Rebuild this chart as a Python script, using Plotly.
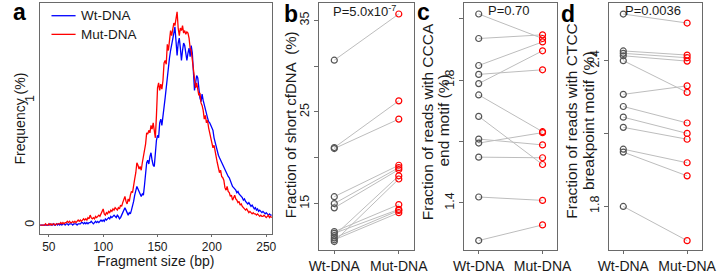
import plotly.graph_objects as go

# ---------------- data ----------------
frag_bp = list(range(42, 256))
wt_freq = [
    0.00, 0.00, 0.00, 0.00, 0.00, 0.00, 0.00, 0.00, 0.00, 0.01,  # 42-51
    0.00, 0.00, 0.01, 0.00, 0.00, 0.01, 0.00, 0.01, 0.00, 0.01,  # 52-61
    0.00, 0.01, 0.01, 0.00, 0.01, 0.01, 0.00, 0.01, 0.01, 0.01,  # 62-71
    0.00, 0.01, 0.01, 0.01, 0.00, 0.01, 0.01, 0.01, 0.02, 0.02,  # 72-81
    0.01, 0.02, 0.01, 0.02, 0.01, 0.02, 0.02, 0.03, 0.02, 0.01,  # 82-91
    0.02, 0.03, 0.02, 0.03, 0.02, 0.03, 0.04, 0.03, 0.04, 0.03,  # 92-101
    0.05, 0.04, 0.05, 0.06, 0.05, 0.07, 0.06, 0.07, 0.08, 0.07,  # 102-111
    0.06, 0.08, 0.07, 0.05, 0.06, 0.08, 0.10, 0.13, 0.14, 0.12,  # 112-121
    0.10, 0.08, 0.10, 0.09, 0.12, 0.15, 0.19, 0.24, 0.29, 0.31,  # 122-131
    0.29, 0.27, 0.25, 0.23, 0.25, 0.24, 0.32, 0.42, 0.50, 0.52,  # 132-141
    0.49, 0.55, 0.58, 0.52, 0.48, 0.47, 0.58, 0.68, 0.72, 0.70,  # 142-151
    0.82, 0.85, 0.80, 0.86, 0.95, 1.02, 1.10, 1.20, 1.28, 1.34,  # 152-161
    1.40, 1.46, 1.50, 1.54, 1.59, 1.48, 1.36, 1.46, 1.50, 1.42,  # 162-171
    1.32, 1.40, 1.46, 1.44, 1.36, 1.32, 1.38, 1.42, 1.35, 1.44,  # 172-181
    1.38, 1.20, 1.08, 1.14, 1.20, 1.18, 1.06, 1.02, 0.99, 1.05,  # 182-191
    1.00, 0.96, 0.92, 0.90, 0.86, 0.83, 0.82, 0.80, 0.78, 0.76,  # 192-201
    0.70, 0.66, 0.64, 0.58, 0.56, 0.54, 0.52, 0.50, 0.48, 0.46,  # 202-211
    0.45, 0.43, 0.41, 0.39, 0.38, 0.35, 0.33, 0.31, 0.30, 0.29,  # 212-221
    0.28, 0.26, 0.27, 0.25, 0.24, 0.23, 0.22, 0.20, 0.21, 0.19,  # 222-231
    0.18, 0.17, 0.18, 0.16, 0.15, 0.16, 0.14, 0.13, 0.14, 0.12,  # 232-241
    0.13, 0.11, 0.12, 0.11, 0.10, 0.11, 0.10, 0.09, 0.10, 0.09,  # 242-251
    0.08, 0.09, 0.08, 0.08,                                      # 252-255
]
mut_freq = [
    0.00, 0.00, 0.00, 0.00, 0.00, 0.01, 0.00, 0.00, 0.01, 0.00,  # 42-51
    0.01, 0.00, 0.01, 0.01, 0.00, 0.01, 0.01, 0.01, 0.01, 0.02,  # 52-61
    0.01, 0.02, 0.01, 0.02, 0.02, 0.03, 0.02, 0.03, 0.02, 0.02,  # 62-71
    0.03, 0.02, 0.03, 0.02, 0.03, 0.04, 0.03, 0.04, 0.03, 0.04,  # 72-81
    0.05, 0.04, 0.05, 0.04, 0.06, 0.05, 0.08, 0.06, 0.05, 0.06,  # 82-91
    0.05, 0.07, 0.06, 0.07, 0.08, 0.07, 0.09, 0.12, 0.13, 0.09,  # 92-101
    0.08, 0.10, 0.09, 0.11, 0.10, 0.12, 0.11, 0.13, 0.12, 0.14,  # 102-111
    0.13, 0.12, 0.14, 0.13, 0.16, 0.15, 0.18, 0.21, 0.23, 0.19,  # 112-121
    0.17, 0.21, 0.19, 0.24, 0.27, 0.26, 0.33, 0.37, 0.42, 0.50,  # 122-131
    0.48, 0.45, 0.47, 0.44, 0.50, 0.55, 0.57, 0.65, 0.74, 0.73,  # 132-141
    0.76, 0.74, 0.80, 0.77, 0.82, 0.73, 0.70, 0.88, 1.10, 1.14,  # 142-151
    1.08, 1.13, 1.09, 1.16, 1.30, 1.32, 1.29, 1.45, 1.40, 1.48,  # 152-161
    1.56, 1.52, 1.58, 1.62, 1.60, 1.66, 1.71, 1.58, 1.52, 1.58,  # 162-171
    1.56, 1.60, 1.54, 1.56, 1.53, 1.55, 1.54, 1.50, 1.42, 1.40,  # 172-181
    1.32, 1.25, 1.18, 1.10, 1.14, 1.07, 1.04, 1.06, 0.98, 0.96,  # 182-191
    0.92, 0.85, 0.88, 0.82, 0.84, 0.78, 0.72, 0.70, 0.66, 0.62,  # 192-201
    0.64, 0.58, 0.56, 0.50, 0.46, 0.42, 0.44, 0.39, 0.38, 0.36,  # 202-211
    0.30, 0.28, 0.31, 0.27, 0.26, 0.23, 0.24, 0.20, 0.22, 0.24,  # 212-221
    0.21, 0.20, 0.18, 0.19, 0.16, 0.17, 0.15, 0.14, 0.13, 0.12,  # 222-231
    0.13, 0.11, 0.10, 0.11, 0.10, 0.09, 0.10, 0.09, 0.09, 0.08,  # 232-241
    0.09, 0.08, 0.07, 0.08, 0.07, 0.07, 0.08, 0.07, 0.06, 0.07,  # 242-251
    0.08, 0.06, 0.07, 0.06,                                      # 252-255
]

groups = ["Wt-DNA", "Mut-DNA"]
group_pos = [1, 2]

short_wt = [30.65, 21.11, 21.00, 15.75, 15.00, 14.53, 11.93, 11.75, 11.50, 11.25, 11.04, 10.85]
short_mut = [35.69, 26.21, 24.22, 19.18, 18.92, 18.71, 14.89, 14.36, 18.03, 14.25, 14.00, 17.68]

ccca_wt = [2.016, 1.936, 1.848, 1.819, 1.789, 1.752, 1.682, 1.608, 1.595, 1.549, 1.419, 1.277]
ccca_mut = [1.936, 1.948, 1.925, 1.834, 1.896, 1.632, 1.525, 1.589, 1.629, 1.547, 1.408, 1.328]

ctcc_wt = [2.592, 2.440, 2.430, 2.420, 2.400, 2.261, 2.211, 2.167, 2.125, 2.035, 2.023, 1.799]
ctcc_mut = [2.555, 2.423, 2.412, 2.398, 2.269, 2.296, 2.143, 2.100, 2.076, 1.979, 1.925, 1.658]

p_labels = ["P=5.0x10<sup>-7</sup>", "P=0.70", "P=0.0036"]
series_names = ["Wt-DNA", "Mut-DNA"]
series_colors = ["#0000ff", "#ff0000"]

# tick values: labelled (major) and unlabelled (minor)
freq_ticks = [0, 1]
panel_major = [[15, 25, 35], [1.4, 1.8], [1.8, 2.4]]
panel_minor = [[20, 30], [1.6, 2.0], [2.1]]

# ---------------- styling ----------------
W, H = 720, 274
FONT = "Liberation Sans, Arial, sans-serif"
TXT = "#1a1a1a"
BOX = "#6a6a6a"
GRAY_PT = "#555555"
LINK = "#bdbdbd"


def px_x(p):
    return p / W


def px_y(p):
    return 1 - p / H


fig = go.Figure()

# panel a
for yv, nm, col in zip([wt_freq, mut_freq], series_names, series_colors):
    fig.add_trace(go.Scatter(x=frag_bp, y=yv, mode="lines", name=nm, showlegend=False,
                             line=dict(color=col, width=1.3), xaxis="x", yaxis="y"))

paired = [(short_wt, short_mut, "2"), (ccca_wt, ccca_mut, "3"), (ctcc_wt, ctcc_mut, "4")]
for wt, mut, k in paired:
    lx, ly = [], []
    for a, b in zip(wt, mut):
        lx += [group_pos[0], group_pos[1], None]
        ly += [a, b, None]
    fig.add_trace(go.Scatter(x=lx, y=ly, mode="lines", line=dict(color=LINK, width=1),
                             showlegend=False, hoverinfo="skip", xaxis="x" + k, yaxis="y" + k))
    fig.add_trace(go.Scatter(x=[group_pos[0]] * len(wt), y=wt, mode="markers", showlegend=False,
                             marker=dict(symbol="circle-open", size=6, color=GRAY_PT, line=dict(width=1.2)),
                             xaxis="x" + k, yaxis="y" + k))
    fig.add_trace(go.Scatter(x=[group_pos[1]] * len(mut), y=mut, mode="markers", showlegend=False,
                             marker=dict(symbol="circle-open", size=6, color="#ff0000", line=dict(width=1.2)),
                             xaxis="x" + k, yaxis="y" + k))

axis_common = dict(showline=True, linecolor=BOX, linewidth=1, mirror=True, showgrid=False,
                   zeroline=False, ticks="outside", tickcolor=BOX, tickfont=dict(family=FONT, size=12.5, color=TXT))

top = px_y(2.7)
layout = dict(
    width=W, height=H, margin=dict(l=0, r=0, t=0, b=0),
    paper_bgcolor="white", plot_bgcolor="white",
    font=dict(family=FONT, color=TXT),
    showlegend=False,
    xaxis=dict(axis_common, domain=[px_x(30), px_x(271)], range=[41.8, 255.5], anchor="y",
               tickvals=[50, 100, 150, 200, 250], ticklen=2,
               tickfont=dict(family=FONT, size=12, color=TXT)),
    yaxis=dict(axis_common, domain=[px_y(238.3), top], range=[-0.071, 1.784], anchor="x",
               tickvals=freq_ticks, tickangle=-90, ticks=""),
)
bx = [(320, 417.7), (470, 566.7), (620, 716.7)]
yranges = [[9.89, 36.93], [1.245, 2.053], [1.618, 2.639]]
for i, ((x0, x1), yr, tv, mv) in enumerate(zip(bx, yranges, panel_major, panel_minor)):
    k = str(i + 2)
    layout["xaxis" + k] = dict(axis_common, domain=[px_x(x0), px_x(x1)], range=[0.77, 2.23], anchor="y" + k,
                               tickvals=group_pos, ticktext=groups, ticklen=3,
                               tickfont=dict(family=FONT, size=14, color=TXT))
    layout["yaxis" + k] = dict(axis_common, domain=[px_y(255), top], range=yr, anchor="x" + k,
                               tickvals=tv, tickangle=-90, ticklen=4,
                               minor=dict(tickmode="array", tickvals=mv, ticks="outside", ticklen=4,
                                          tickcolor=BOX, showgrid=False))
fig.update_layout(**layout)

ann = []
shapes = []


def add_text(x, y, text, size, angle=0, bold=False, xanchor="center"):
    ann.append(dict(xref="paper", yref="paper", x=px_x(x), y=px_y(y), text=("<b>%s</b>" % text) if bold else text,
                    showarrow=False, textangle=angle, xanchor=xanchor, yanchor="middle", borderpad=0,
                    font=dict(family=FONT, size=size, color="black" if bold else TXT)))


# legend of panel a (key lines + labels)
for row, (nm, col) in enumerate(zip(series_names, series_colors)):
    yy = 16 + row * 19
    shapes.append(dict(type="line", xref="paper", yref="paper", x0=px_x(42), x1=px_x(67),
                       y0=px_y(yy), y1=px_y(yy), line=dict(color=col, width=1.3)))
    add_text(72, yy, nm, 13.5, xanchor="left")

# panel letters
add_text(9, 12.5, "a", 23, bold=True)
add_text(290, 14.5, "b", 23, bold=True)
add_text(428, 12.5, "c", 23, bold=True)
add_text(578, 14.5, "d", 23, bold=True)

# axis titles
add_text(150, 266, "Fragment size (bp)", 14)
add_text(9, 121, "Frequency (%)", 14, angle=-90)
add_text(290, 127, "Fraction of short cfDNA  (%)", 15, angle=-90)
add_text(432, 124, "Fraction of reads with CCCA", 15.5, angle=-90)
add_text(449, 123, "end motif (%)", 15.5, angle=-90)
add_text(582, 123, "Fraction of reads with CTCC", 15.5, angle=-90)
add_text(599, 123, "breakpoint motif (%)", 15.5, angle=-90)

# p-values
for (x0, x1), lab in zip(bx, p_labels):
    add_text((x0 + x1) / 2 - 2, 11, lab, 13)

fig.update_layout(annotations=ann, shapes=shapes)
fig.write_html("out.html")
